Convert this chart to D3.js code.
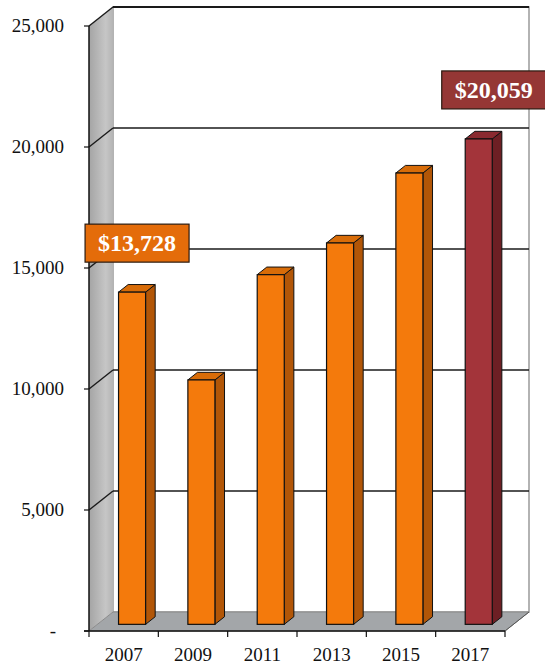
<!DOCTYPE html>
<html>
<head>
<meta charset="utf-8">
<script src="https://cdn.jsdelivr.net/npm/d3@7"></script>
<style>
  body { margin: 0; background: #fff; }
  text { font-family: "Liberation Serif", "DejaVu Serif", serif; }
</style>
</head>
<body>
<svg id="chart" width="545" height="664"></svg>
<script>
// data
var years = ["2007", "2009", "2011", "2013", "2015", "2017"];
var values = [13728, 10100, 14450, 15760, 18650, 20059];
var yTicks = [0, 5000, 10000, 15000, 20000, 25000];
var callouts = ["2007", "2017"];
var calloutText = ["$13,728", "$20,059"];

var svg = d3.select("#chart");

var plotL = 89, plotR = 505, plotB = 631, plotT = 26;
var dx = 24, dy = -19;      // depth of the 3d box
var fFront = 0.35, fBack = 0.75; // bar depth inside the box

var x = d3.scaleBand().domain(years).range([plotL, plotR]);
var y = d3.scaleLinear().domain([0, 25000]).range([plotB, plotT]);

var defs = svg.append("defs");
var wg = defs.append("linearGradient").attr("id", "wall").attr("x1", 0).attr("x2", 1);
wg.append("stop").attr("offset", 0).attr("stop-color", "#a4a4a4");
wg.append("stop").attr("offset", 0.7).attr("stop-color", "#c6c6c6");
wg.append("stop").attr("offset", 1).attr("stop-color", "#b4b4b4");

function pts(a) { return a.map(function(p) { return p.join(","); }).join(" "); }

// back wall
svg.append("rect")
    .attr("x", plotL + dx).attr("y", y(25000) + dy)
    .attr("width", plotR - plotL).attr("height", y(0) - y(25000))
    .attr("fill", "#fff")
    .attr("stroke", "#9a9a9a").attr("stroke-width", 1.5);

// left wall
svg.append("polygon")
    .attr("points", pts([[plotL, y(25000)], [plotL + dx, y(25000) + dy], [plotL + dx, y(0) + dy], [plotL, y(0)]]))
    .attr("fill", "url(#wall)");

// floor
svg.append("polygon")
    .attr("points", pts([[plotL, y(0)], [plotL + dx, y(0) + dy], [plotR + dx, y(0) + dy], [plotR, y(0)]]))
    .attr("fill", "#a3a6a9")
    .attr("stroke", "#8a8a8a").attr("stroke-width", 1);

// gridlines (back wall + left wall)
yTicks.filter(function(t) { return t > 0; }).forEach(function(t) {
  svg.append("line")
      .attr("x1", plotL + dx).attr("x2", plotR + dx)
      .attr("y1", y(t) + dy).attr("y2", y(t) + dy)
      .attr("stroke", "#1a1a1a").attr("stroke-width", t === 25000 ? 2 : 1.6);
  svg.append("line")
      .attr("x1", plotL).attr("x2", plotL + dx)
      .attr("y1", y(t)).attr("y2", y(t) + dy)
      .attr("stroke", "#1a1a1a").attr("stroke-width", 1.4);
});

// bars
var bw = x.bandwidth() * 0.39;
var data = years.map(function(yr, i) { return {year: yr, value: values[i]}; });

var bars = svg.selectAll(".bar").data(data).enter().append("g").attr("class", "bar");

function barColors(d) {
  return d.year === "2017"
    ? {face: "#a3343a", side: "#6d1f24", top: "#8a2a30"}
    : {face: "#f47a0c", side: "#b25607", top: "#d86c08"};
}

bars.each(function(d) {
  var g = d3.select(this);
  var c = barColors(d);
  var x0 = x(d.year) + (x.bandwidth() - bw) / 2 + dx * fFront;
  var x1 = x0 + bw;
  var yb = y(0) + dy * fFront;
  var yt = y(d.value) + dy * fFront;
  var ox = dx * (fBack - fFront), oy = dy * (fBack - fFront);
  // side
  g.append("polygon")
      .attr("points", pts([[x1, yt], [x1 + ox, yt + oy], [x1 + ox, yb + oy], [x1, yb]]))
      .attr("fill", c.side).attr("stroke", "#111").attr("stroke-width", 1);
  // top
  g.append("polygon")
      .attr("points", pts([[x0, yt], [x0 + ox, yt + oy], [x1 + ox, yt + oy], [x1, yt]]))
      .attr("fill", c.top).attr("stroke", "#111").attr("stroke-width", 1);
  // front
  g.append("rect")
      .attr("x", x0).attr("y", yt)
      .attr("width", bw).attr("height", yb - yt)
      .attr("fill", c.face).attr("stroke", "#111").attr("stroke-width", 1.2);
});

// axes
svg.append("line")
    .attr("x1", plotL).attr("x2", plotL).attr("y1", y(25000)).attr("y2", y(0))
    .attr("stroke", "#111").attr("stroke-width", 1.5);
svg.append("line")
    .attr("x1", plotL - 5).attr("x2", plotR).attr("y1", y(0)).attr("y2", y(0))
    .attr("stroke", "#111").attr("stroke-width", 1.5);
svg.append("line")
    .attr("x1", plotR).attr("x2", plotR + dx).attr("y1", y(0)).attr("y2", y(0) + dy)
    .attr("stroke", "#555").attr("stroke-width", 1);

var fmt = d3.format(",");
svg.selectAll(".ytick").data(yTicks).enter().append("line")
    .attr("x1", plotL - 5).attr("x2", plotL)
    .attr("y1", function(d) { return y(d); }).attr("y2", function(d) { return y(d); })
    .attr("stroke", "#111").attr("stroke-width", 1.2);
svg.selectAll(".ylab").data(yTicks).enter().append("text")
    .attr("x", function(d) { return d === 0 ? 56 : 64; })
    .attr("y", function(d) { return y(d) + 6; })
    .attr("text-anchor", "end")
    .attr("font-size", 19)
    .attr("fill", "#111")
    .text(function(d) { return d === 0 ? "-" : fmt(d); });

var xEdges = years.map(function(d) { return x(d); }).concat([plotR]);
svg.selectAll(".xtick").data(xEdges).enter().append("line")
    .attr("x1", function(d) { return d; }).attr("x2", function(d) { return d; })
    .attr("y1", y(0)).attr("y2", y(0) + 6)
    .attr("stroke", "#111").attr("stroke-width", 1.2);
svg.selectAll(".xlab").data(years).enter().append("text")
    .attr("x", function(d) { return x(d) + x.bandwidth() / 2; })
    .attr("y", 661)
    .attr("text-anchor", "middle")
    .attr("font-size", 19)
    .attr("fill", "#111")
    .text(function(d) { return d; });

// callout boxes
var boxW = 104, boxH = 38;
var boxShift = [5, 15];
callouts.forEach(function(yr, i) {
  var v = values[years.indexOf(yr)];
  var cx = x(yr) + x.bandwidth() / 2 + dx * fFront + boxShift[i];
  var by = y(v) + dy * fFront - 30 - boxH;
  var fill = yr === "2017" ? "#953735" : "#e46c0a";
  svg.append("rect")
      .attr("x", cx - boxW / 2).attr("y", by)
      .attr("width", boxW).attr("height", boxH)
      .attr("fill", fill).attr("stroke", "#2a1a10").attr("stroke-width", 1.2);
  svg.append("text")
      .attr("x", cx).attr("y", by + boxH / 2 + 8)
      .attr("text-anchor", "middle")
      .attr("font-size", 24).attr("font-weight", "bold")
      .attr("fill", "#fff")
      .text(calloutText[i]);
});
</script>
</body>
</html>
